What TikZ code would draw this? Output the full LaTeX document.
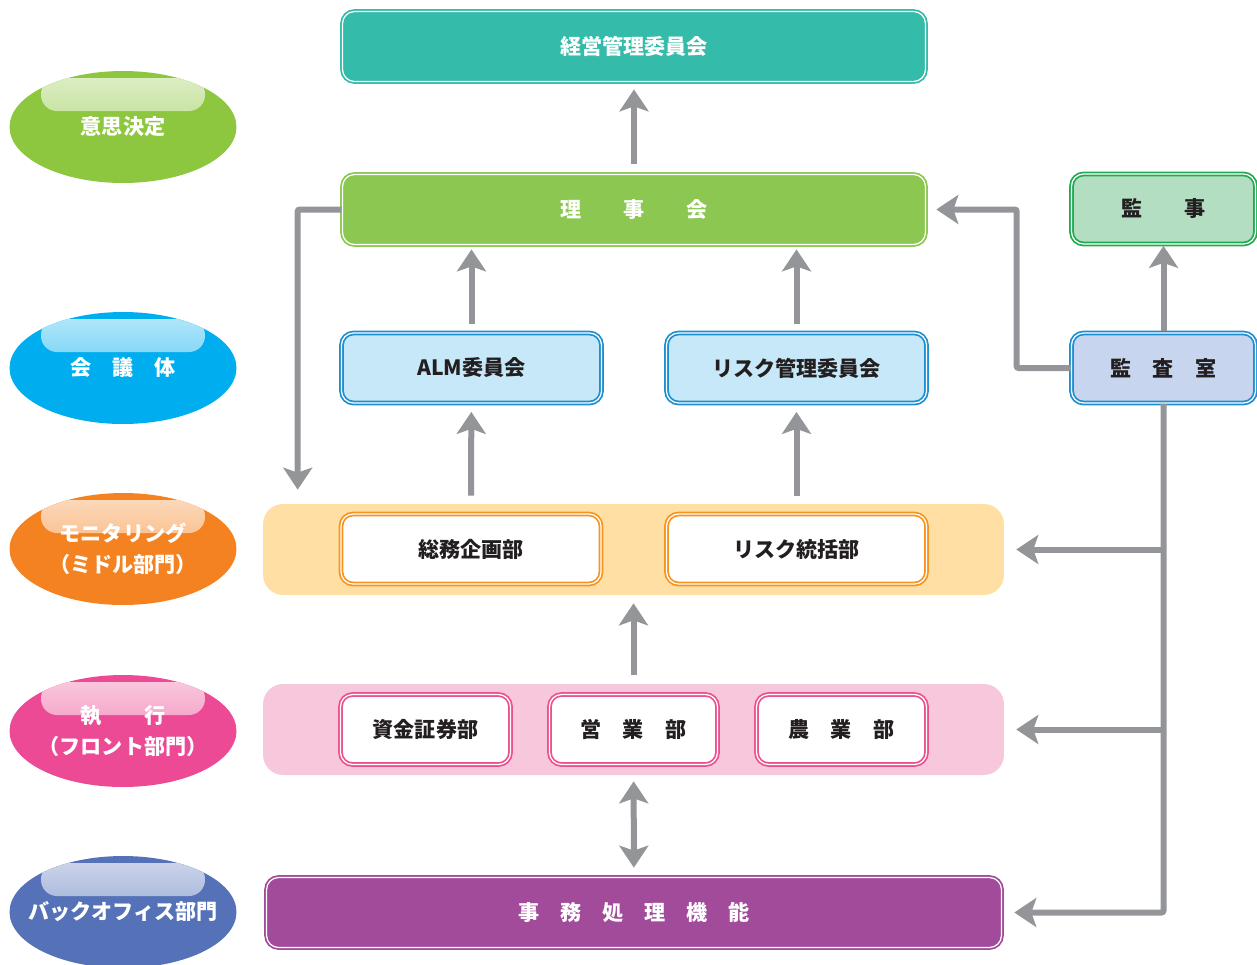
\documentclass[tikz,border=0pt]{standalone}
\usepackage{fontspec}
\setmainfont{Noto Sans CJK JP}
\usetikzlibrary{arrows.meta,positioning,shapes.geometric,calc}

\definecolor{kTeal}{HTML}{35BBAA}
\definecolor{kLeaf}{HTML}{8CC751}
\definecolor{kMint}{HTML}{B3DEC1}
\definecolor{kMintLine}{HTML}{1EAA50}
\definecolor{kSky}{HTML}{C7E8F8}
\definecolor{kSkyLine}{HTML}{1D8FD0}
\definecolor{kLav}{HTML}{C7D5EE}
\definecolor{kOrangeBand}{HTML}{FFDFA3}
\definecolor{kOrangeLine}{HTML}{F7941D}
\definecolor{kPinkBand}{HTML}{F7C8DC}
\definecolor{kPinkLine}{HTML}{E9528E}
\definecolor{kPurple}{HTML}{A14B9A}
\definecolor{kGray}{HTML}{939598}
\definecolor{kInk}{HTML}{231F20}
\definecolor{eGreen}{HTML}{8DC63F}
\definecolor{eBlue}{HTML}{00AEEF}
\definecolor{eOrange}{HTML}{F58220}
\definecolor{ePink}{HTML}{EC4A94}
\definecolor{eNavy}{HTML}{5572B8}

% label line that may be wider than the oval's text box
\newcommand{\ovline}[1]{\makebox[2cm][c]{#1}}

\begin{document}
\begin{tikzpicture}[
    x = 0.02cm, y = -0.02cm, % one unit = one pixel of the layout
    font = \fontsize{12}{15}\selectfont\bfseries,
    gtip/.tip = {Stealth[length=0.44cm, width=0.58cm, inset=0.1cm]},
    arr/.style = {draw=kGray, line width=0.12cm, rounded corners=0.04cm, -gtip},
    darr/.style = {draw=kGray, line width=0.12cm, gtip-gtip},
    box/.style = {rectangle, rounded corners=0.24cm, draw=#1, line width=1pt,
        double=white, double distance=0.7pt, minimum height=1.4cm,
        text=kInk, align=center},
    band/.style = {rectangle, rounded corners=0.4cm, fill=#1,
        minimum width=14.82cm, minimum height=1.82cm},
    oval/.style = {ellipse, fill=#1, minimum width=4.54cm, minimum height=2.24cm,
        text=white, align=center, inner sep=0pt,
        font=\fontsize{12}{17.5}\selectfont\bfseries,
        path picture={\shade[top color=white!72!#1, bottom color=white!18!#1,
            rounded corners=0.32cm]
            ([xshift=-1.64cm, yshift=-0.14cm]path picture bounding box.north) rectangle
            ([xshift=1.64cm, yshift=-0.8cm]path picture bounding box.north);}}
    ]

    \useasboundingbox (0,0) rectangle (1257,964);

    % row labels
    \node[oval=eGreen] (kettei) at (123,127) {\ovline{意思決定}};
    \node[oval=eBlue] (kaigi) at (123,368) {\ovline{会\hspace{1em}議\hspace{1em}体}};
    \node[oval=eOrange] (middle) at (123,549) {\ovline{モニタリング}\\\ovline{（ミドル部門）}};
    \node[oval=ePink] (front) at (123,731) {\ovline{執\hspace{2em}行}\\\ovline{（フロント部門）}};
    \node[oval=eNavy] (back) at (123,912) {\ovline{バックオフィス部門}};

    % bands
    \node[band=kOrangeBand] (midband) at (633.5,549.5) {};
    \node[band=kPinkBand] (frontband) at (633.5,729.5) {};

    % boxes
    \node[box=kTeal, fill=kTeal, text=white, minimum width=11.66cm] (keiei) at (634,46.5) {経営管理委員会};
    \node[box=kLeaf, fill=kLeaf, text=white, minimum width=11.66cm] (riji) at (634,209.5) {理\hspace{2em}事\hspace{2em}会};
    \node[box=kMintLine, fill=kMint, minimum width=3.68cm] (kanji) at (1163.5,209) {監\hspace{2em}事};
    \node[box=kSkyLine, fill=kSky, minimum width=5.2cm] (alm) at (471.5,368) {ALM委員会};
    \node[box=kSkyLine, fill=kSky, minimum width=5.2cm] (riskkanri) at (796.5,368) {リスク管理委員会};
    \node[box=kSkyLine, fill=kLav, minimum width=3.68cm] (kansa) at (1163.5,368) {監\hspace{1em}査\hspace{1em}室};
    \node[box=kOrangeLine, fill=white, minimum width=5.2cm] (soumu) at (471,549) {総務企画部};
    \node[box=kOrangeLine, fill=white, minimum width=5.2cm] (risktoukatsu) at (796.5,549) {リスク統括部};
    \node[box=kPinkLine, fill=white, minimum width=3.4cm] (shikin) at (425.5,729.5) {資金証券部};
    \node[box=kPinkLine, fill=white, minimum width=3.36cm] (eigyo) at (633.5,729.5) {営\hspace{1em}業\hspace{1em}部};
    \node[box=kPinkLine, fill=white, minimum width=3.4cm] (nogyo) at (841.5,729.5) {農\hspace{1em}業\hspace{1em}部};
    \node[box=kPurple, fill=kPurple, text=white, minimum width=14.7cm] (jimu) at (634,912.5) {事\hspace{1em}務\hspace{1em}処\hspace{1em}理\hspace{1em}機\hspace{1em}能};

    % arrows
    \draw[arr, shorten <=0.2cm, shorten >=0.14cm] (riji) -- (keiei);
    \draw[arr, shorten <=0.16cm, shorten >=0.08cm] (alm) -- (alm |- riji.south);
    \draw[arr, shorten <=0.16cm, shorten >=0.08cm] (riskkanri) -- (riskkanri |- riji.south);
    \draw[arr, shorten <=0.16cm, shorten >=0.16cm] (soumu |- midband.north) -- (alm);
    \draw[arr, shorten <=0.16cm, shorten >=0.16cm] (risktoukatsu |- midband.north) -- (riskkanri);
    \draw[arr, shorten <=0.18cm, shorten >=0.16cm] (frontband) -- (midband);
    \draw[darr, shorten <=0.12cm, shorten >=0.18cm] (frontband) -- (jimu);
    \draw[arr, shorten <=0.02cm, shorten >=0.02cm] (kansa) -- (kanji);
    \draw[arr, shorten >=0.28cm] (riji.west) -| ([xshift=0.7cm]midband.north west);
    \draw[arr, shorten >=0.2cm] (kansa.west) -- ++(-54,0) |- (riji.east);
    \draw[arr, shorten >=0.24cm] (kansa.south) |- (jimu.east);
    \draw[arr, shorten >=0.24cm] (kansa.south |- midband.east) -- (midband.east);
    \draw[arr, shorten >=0.24cm] (kansa.south |- frontband.east) -- (frontband.east);
\end{tikzpicture}
\end{document}
